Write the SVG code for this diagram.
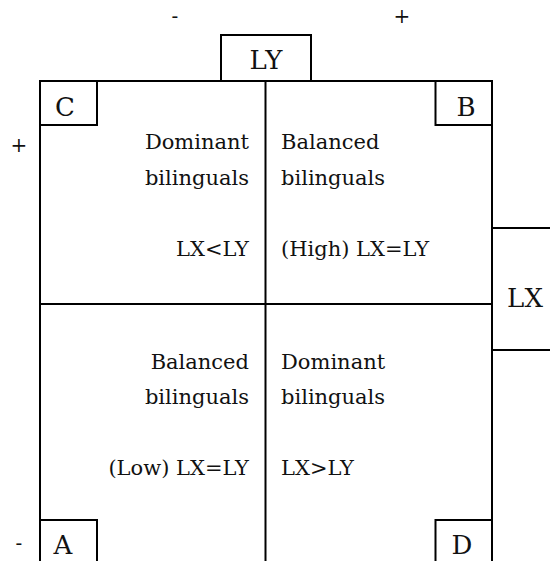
<svg xmlns="http://www.w3.org/2000/svg" width="550" height="561" viewBox="0 0 550 561">
  <style>
    .ln { fill: none; stroke: #000; stroke-width: 2; }
    text { font-family: 'DejaVu Serif', serif; fill: #111; }
    .body { font-size: 21px; }
    .lbl { font-size: 26px; text-anchor: middle; }
    .sign { font-size: 20px; text-anchor: middle; }
    .end { text-anchor: end; }
  </style>
  <rect width="550" height="561" fill="#fff"/>

  <!-- outer frame and quadrant dividers -->
  <g id="grid">
    <path class="ln" d="M40 565 V81 H492 V565"/>
    <path class="ln" d="M265.5 81 V565"/>
    <path class="ln" d="M40 304 H492"/>
  </g>

  <!-- axis polarity marks -->
  <g id="axis-signs">
    <text class="sign" x="175" y="23">-</text>
    <text class="sign" x="402" y="23">+</text>
    <text class="sign" x="19" y="152">+</text>
    <text class="sign" x="19" y="550">-</text>
  </g>

  <!-- LY axis tab -->
  <g id="tab-LY">
    <path class="ln" d="M221 81 V35 H311 V81"/>
    <text class="lbl" x="266" y="69">LY</text>
  </g>

  <!-- LX axis tab -->
  <g id="tab-LX">
    <path class="ln" d="M551 228 H492 V350 H551"/>
    <text class="lbl" x="525" y="307">LX</text>
  </g>

  <!-- corner tags -->
  <g id="corner-C">
    <path class="ln" d="M40 125 H97 V81"/>
    <text class="lbl" x="65" y="116">C</text>
  </g>
  <g id="corner-B">
    <path class="ln" d="M492 125 H435.5 V81"/>
    <text class="lbl" x="466" y="116">B</text>
  </g>
  <g id="corner-A">
    <path class="ln" d="M40 520 H97 V565"/>
    <text class="lbl" x="63" y="554">A</text>
  </g>
  <g id="corner-D">
    <path class="ln" d="M492 520 H435.5 V565"/>
    <text class="lbl" x="462" y="554">D</text>
  </g>

  <!-- quadrant descriptions -->
  <g id="quad-C">
    <text class="body end" x="249" y="149">Dominant</text>
    <text class="body end" x="249" y="185">bilinguals</text>
    <text class="body end" x="249" y="256">LX&lt;LY</text>
  </g>
  <g id="quad-B">
    <text class="body" x="281" y="149">Balanced</text>
    <text class="body" x="281" y="185">bilinguals</text>
    <text class="body" x="281" y="256">(High) LX=LY</text>
  </g>
  <g id="quad-A">
    <text class="body end" x="249" y="369">Balanced</text>
    <text class="body end" x="249" y="404">bilinguals</text>
    <text class="body end" x="249" y="475">(Low) LX=LY</text>
  </g>
  <g id="quad-D">
    <text class="body" x="281" y="369">Dominant</text>
    <text class="body" x="281" y="404">bilinguals</text>
    <text class="body" x="281" y="475">LX&gt;LY</text>
  </g>
</svg>
